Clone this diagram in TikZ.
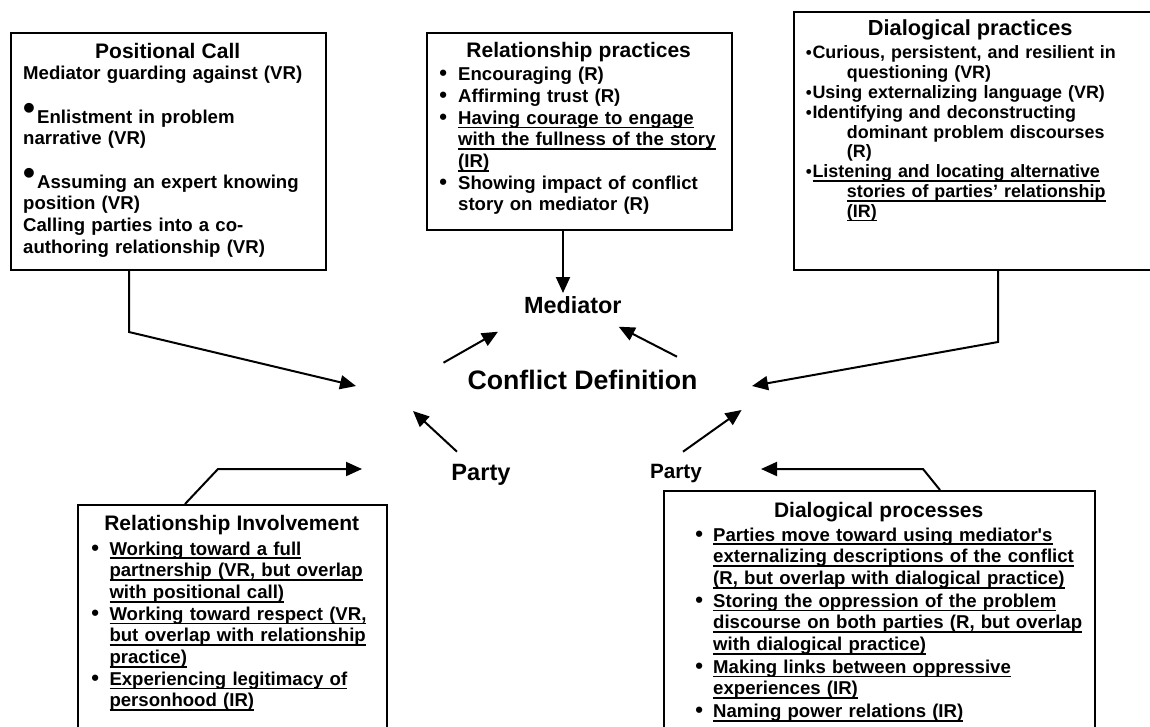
\documentclass[tikz,border=0pt]{standalone}
\usepackage{fontspec}
\setmainfont{Liberation Sans}[Ligatures=TeXOff]
\usetikzlibrary{arrows.meta}
\newsavebox\ulbox
\newcommand\uln[1]{\sbox\ulbox{#1}\rlap{\rule[-4.2pt]{\wd\ulbox}{1.8pt}}\usebox\ulbox}
\newcommand\bulx[2]{\makebox[0pt][c]{\raisebox{#2}{\fontsize{#1}{0}\selectfont\char"2022}}}
\newcommand\bli[2]{\makebox[#2][l]{\hspace{#1}\bulx{22}{0pt}}}
\newcommand\blis[2]{\makebox[#2][l]{\hspace{#1}\bulx{17}{0pt}}}
\newcommand\bigbul{\makebox[14pt][l]{\smash{\raisebox{4pt}{\fontsize{34}{0}\selectfont\char"2022}}}}
\newcommand\ttl[2]{\makebox[#1][c]{\fontsize{21}{21.7}\selectfont #2}}
\begin{document}
\begin{tikzpicture}[x=1pt,y=-1pt,
  box/.style={draw,line width=2pt,inner sep=0pt,anchor=north west},
  body/.style={anchor=base west,inner sep=0pt,align=left,text width=#1,
     font=\fontsize{18.6}{21.7}\selectfont\bfseries},
  bodys/.style={anchor=base west,inner sep=0pt,align=left,text width=#1,
     font=\fontsize{17.9}{19.8}\selectfont\bfseries},
  lab/.style={anchor=base,inner sep=0pt,font=\bfseries},
  arr/.style={line width=2pt,-{Triangle[length=16pt,width=14pt]}}]
\useasboundingbox (0,0) rectangle (1150,726);
\clip (0,0) rectangle (1150,726);

% boxes
\node[box,minimum width=315pt,minimum height=237pt] (pc) at (10,32) {};
\node[box,minimum width=305pt,minimum height=197pt] (rp) at (426,32) {};
\node[box,minimum width=380pt,minimum height=258pt] (dp) at (793,11) {};
\node[box,minimum width=309pt,minimum height=240pt] (ri) at (77,504) {};
\node[box,minimum width=431pt,minimum height=250pt] (dpr) at (663,490) {};

% box contents
\node[body=330pt] (pctext) at (10,58) {%
\ttl{315pt}{Positional Call}\\
\hspace*{13pt}Mediator guarding against (VR)\\
\mbox{}\\
\hspace*{13pt}\bigbul Enlistment in problem\\
\hspace*{13pt}narrative (VR)\\
\mbox{}\\
\hspace*{13pt}\bigbul Assuming an expert knowing\\
\hspace*{13pt}position (VR)\\
\hspace*{13pt}Calling parties into a co-\\
\hspace*{13pt}authoring relationship (VR)};

\node[body=320pt] (rptext) at (426,57) {%
\ttl{305pt}{Relationship practices}\\[2pt]
\bli{17pt}{32pt}Encouraging (R)\\
\bli{17pt}{32pt}Affirming trust (R)\\
\bli{17pt}{32pt}\uln{Having courage to engage}\\
\hspace*{32pt}\uln{with the fullness of the story}\\
\hspace*{32pt}\uln{(IR)}\\
\bli{17pt}{32pt}Showing impact of conflict\\
\hspace*{32pt}story on mediator (R)};

\node[bodys=380pt] (dptext) at (793,35) {%
\makebox[354pt][c]{\fontsize{21.8}{21.8}\selectfont Dialogical practices}\\[4pt]
\blis{15.7pt}{19.3pt}Curious, persistent, and resilient in\\
\hspace*{53.7pt}questioning (VR)\\
\blis{15.7pt}{19.3pt}Using externalizing language (VR)\\
\blis{15.7pt}{19.3pt}Identifying and deconstructing\\
\hspace*{53.7pt}dominant problem discourses\\
\hspace*{53.7pt}(R)\\
\blis{15.7pt}{19.3pt}\uln{Listening and locating alternative}\\
\hspace*{53.7pt}\uln{stories of parties’ relationship}\\
\hspace*{53.7pt}\uln{(IR)}};

\node[body=330pt] (ritext) at (77,530.7) {%
\ttl{309pt}{Relationship Involvement}\\[2.6pt]
\bli{18pt}{32.3pt}\uln{Working toward a full}\\
\hspace*{32.3pt}\uln{partnership (VR, but overlap}\\
\hspace*{32.3pt}\uln{with positional call)}\\
\bli{18pt}{32.3pt}\uln{Working toward respect (VR,}\\
\hspace*{32.3pt}\uln{but overlap with relationship}\\
\hspace*{32.3pt}\uln{practice)}\\
\bli{18pt}{32.3pt}\uln{Experiencing legitimacy of}\\
\hspace*{32.3pt}\uln{personhood (IR)}};

\node[body=450pt] (dprtext) at (663,517) {%
\ttl{431pt}{Dialogical processes}\\[2.3pt]
\bli{36pt}{50pt}\uln{Parties move toward using mediator's}\\
\hspace*{50pt}\uln{externalizing descriptions of the conflict}\\
\hspace*{50pt}\uln{(R, but overlap with dialogical practice)}\\[1pt]
\bli{36pt}{50pt}\uln{Storing the oppression of the problem}\\
\hspace*{50pt}\uln{discourse on both parties (R, but overlap}\\
\hspace*{50pt}\uln{with dialogical practice)}\\[1pt]
\bli{36pt}{50pt}\uln{Making links between oppressive}\\
\hspace*{50pt}\uln{experiences (IR)}\\[1pt]
\bli{36pt}{50pt}\uln{Naming power relations (IR)}};

% central labels
\node[lab,font=\fontsize{23.4}{28}\selectfont\bfseries] (med) at (572.8,313) {Mediator};
\node[lab,font=\fontsize{26.7}{32}\selectfont\bfseries] (cd) at (582.5,389) {Conflict Definition};
\node[lab,font=\fontsize{23.6}{28}\selectfont\bfseries] (p1) at (481,480) {Party};
\node[lab,font=\fontsize{20.7}{25}\selectfont\bfseries] (p2) at (676,478) {Party};

% connector end points
\coordinate (pcA) at (129,269);
\coordinate (pcB) at (129,332);
\coordinate (cdL) at (356,386);
\coordinate (dpA) at (998,269);
\coordinate (dpB) at (998,342);
\coordinate (cdR) at (752,386);
\coordinate (rpA) at (563,229);
\coordinate (medT) at (563,293);
\coordinate (cdML) at (443.5,362.7);
\coordinate (medL) at (498,331.7);
\coordinate (cdMR) at (677,356.7);
\coordinate (medR) at (618.7,326.7);
\coordinate (p1A) at (457,451.7);
\coordinate (cdBL) at (413,411);
\coordinate (p2A) at (683,451.7);
\coordinate (cdBR) at (741.6,410);
\coordinate (riA) at (185,504);
\coordinate (riB) at (218,469);
\coordinate (p1L) at (362,469);
\coordinate (dprA) at (940,490);
\coordinate (dprB) at (923,469);
\coordinate (p2R) at (761,469);

% connectors
\draw[arr] (pcA) -- (pcB) -- (cdL);
\draw[arr] (dpA) -- (dpB) -- (cdR);
\draw[arr] (rpA) -- (medT);
\draw[arr] (cdML) -- (medL);
\draw[arr] (cdMR) -- (medR);
\draw[arr] (p1A) -- (cdBL);
\draw[arr] (p2A) -- (cdBR);
\draw[arr] (riA) -- (riB) -- (p1L);
\draw[arr] (dprA) -- (dprB) -- (p2R);
\end{tikzpicture}
\end{document}
